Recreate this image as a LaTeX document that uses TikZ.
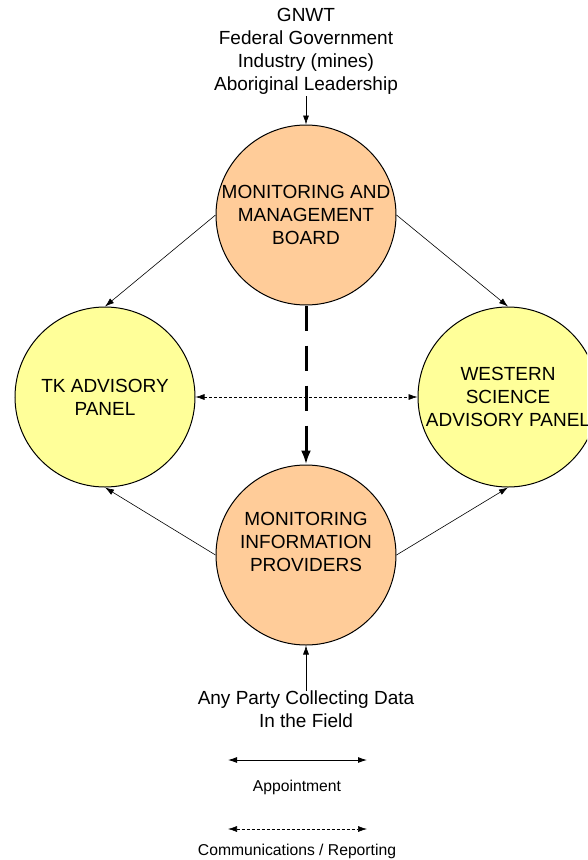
\documentclass[tikz,border=0pt]{standalone}
\usepackage{fontspec}
\setmainfont{Liberation Sans}
\usetikzlibrary{arrows.meta}
\definecolor{peach}{HTML}{FFCC99}
\definecolor{paleyellow}{HTML}{FFFF99}
\begin{document}
\begin{tikzpicture}[x=1pt,y=-1pt,
  circ/.style={circle,draw=black,line width=1pt,minimum size=180pt,inner sep=0pt,align=center,font=\fontsize{19}{23}\selectfont},
  orange/.style={circ,fill=peach},
  yellow/.style={circ,fill=paleyellow},
  intext/.style={align=center,font=\fontsize{19}{23}\selectfont,inner sep=0pt},
  lbl/.style={align=center,font=\fontsize{19}{23}\selectfont,inner sep=0pt},
  small/.style={font=\fontsize{15.7}{18}\selectfont,inner sep=0pt},
  arr/.style={-{Latex[length=9pt,width=6pt]},line width=0.6pt},
  darr/.style={{Latex[length=9pt,width=6pt]}-{Latex[length=9pt,width=6pt]},line width=0.6pt,dash pattern=on 3pt off 2pt},
  sarr/.style={{Latex[length=9pt,width=6pt]}-{Latex[length=9pt,width=6pt]},line width=0.9pt}
]
\useasboundingbox (0,0) rectangle (587,860);
\clip (0,0) rectangle (587,860);
\node[orange] (mmb) at (306,215) {MONITORING AND\\MANAGEMENT\\BOARD};
\node[yellow] (tk) at (105,397) {TK ADVISORY\\PANEL};
\node[yellow] (ws) at (508,397) {WESTERN\\SCIENCE\\ADVISORY PANEL};
\node[orange] (mip) at (306,555) {};
\node[intext] (miptext) at (306,542) {MONITORING\\INFORMATION\\PROVIDERS};
\node[lbl,anchor=north] (top) at (306,8) {GNWT\\Federal Government\\Industry (mines)\\Aboriginal Leadership};
\node[lbl,anchor=north] (bot) at (306,691) {Any Party Collecting Data\\In the Field};
\draw[arr] (306,96) coordinate (ts) -- (mmb.north);
\draw[arr] (bot.north) -- (mip.south);
\draw[arr] (mmb.180) -- (tk.north);
\draw[arr] (mmb.0) -- (ws.north);
\draw[arr] (mip.180) -- (tk.south);
\draw[arr] (mip.0) -- (ws.south);
\draw[darr] (tk.east) -- (ws.west);
\draw[-{Latex[length=14pt,width=10pt]},line width=3pt,dash pattern=on 25pt off 15pt] (mmb.south) -- (mip.north);
\coordinate (l1a) at (228,760);
\coordinate (l1b) at (367,760);
\coordinate (l2a) at (228,829);
\coordinate (l2b) at (367,829);
\draw[sarr] (l1a) -- (l1b);
\draw[darr] (l2a) -- (l2b);
\node[small] (app) at (297,787) {Appointment};
\node[small] (com) at (297,851) {Communications / Reporting};
\end{tikzpicture}
\end{document}
